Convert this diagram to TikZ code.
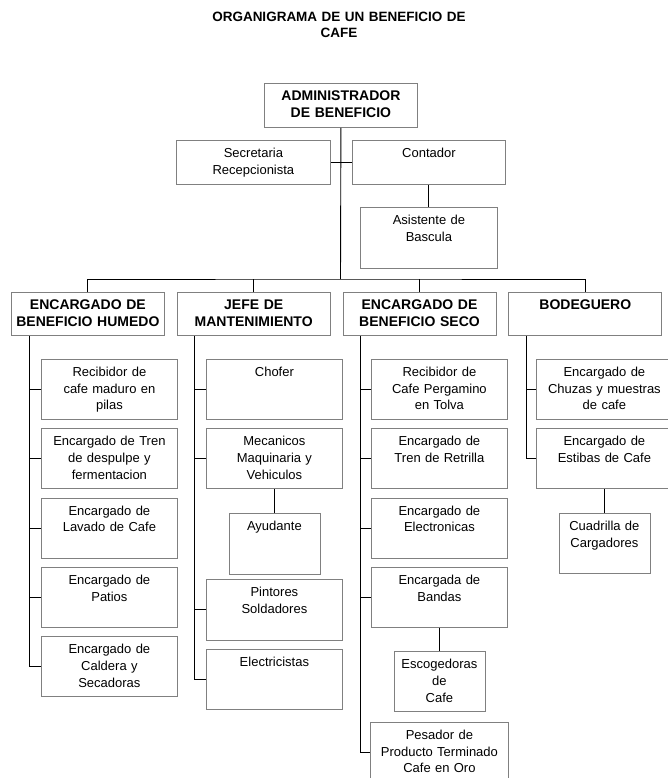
\documentclass[tikz,border=0pt]{standalone}
\usepackage{fontspec}
\setmainfont{Liberation Sans}
\usetikzlibrary{positioning}
\definecolor{bordegris}{RGB}{128,128,128}

\begin{document}
\begin{tikzpicture}[x=1pt,y=-1pt,
  caja/.style={draw=bordegris, line width=0.8pt, inner sep=0pt, align=center,
    text height=17pt, text width=136pt, text depth=43pt,
    font=\fontsize{13}{16.7}\selectfont},
  jefe/.style={caja, text width=153pt, text depth=26pt,
    font=\fontsize{14}{17.3}\selectfont\bfseries},
  chica/.style={caja, text width=91pt},
  linea/.style={draw=black, line width=0.9pt}]
\useasboundingbox (0,0) rectangle (668,778);

\node[font=\fontsize{13.5}{16.3}\selectfont\bfseries, align=center, text width=320pt,
  inner sep=0pt, text height=17pt, text depth=20pt, anchor=north] (titulo) at (339,4)
  {ORGANIGRAMA DE UN BENEFICIO DE\\CAFE};

% direccion
\node[jefe, anchor=north west, text depth=27pt] (adm) at (264,83) {ADMINISTRADOR\\DE BENEFICIO};
\node[caja, anchor=north west, text width=154pt, text depth=27pt] (sec) at (176,140) {Secretaria\\Recepcionista};
\node[caja, anchor=north west, text width=153pt, text depth=27pt] (cont) at (352,140) {Contador};
\node[caja, anchor=north west, text width=137pt, text depth=44pt] (asis) at (360,207) {Asistente de\\Bascula};

% jefes de area
\node[jefe, anchor=north west] (hum) at (11,292) {ENCARGADO DE\\BENEFICIO HUMEDO};
\node[jefe, right=12pt of hum] (man) {JEFE DE\\MANTENIMIENTO};
\node[jefe, right=12pt of man] (seco) {ENCARGADO DE\\BENEFICIO SECO};
\node[jefe, right=12pt of seco] (bod) {BODEGUERO};

% beneficio humedo
\node[caja, anchor=north west] (h1) at (41,359) {Recibidor de\\cafe maduro en\\pilas};
\node[caja, below=8.5pt of h1] (h2) {Encargado de Tren\\de despulpe y\\fermentacion};
\node[caja, below=8.5pt of h2] (h3) {Encargado de\\Lavado de Cafe};
\node[caja, below=8.5pt of h3] (h4) {Encargado de\\Patios};
\node[caja, below=8.5pt of h4] (h5) {Encargado de\\Caldera y\\Secadoras};

% mantenimiento
\node[caja, anchor=north west] (m1) at (206,359) {Chofer};
\node[caja, below=8.5pt of m1] (m2) {Mecanicos\\Maquinaria y\\Vehiculos};
\node[chica, text depth=44pt, below=24pt of m2] (ayu) {Ayudante};
\node[caja, anchor=north west, text depth=44pt] (m3) at (206,579) {Pintores\\Soldadores};
\node[caja, below=8pt of m3] (m4) {Electricistas};

% beneficio seco
\node[caja, anchor=north west] (s1) at (371,359) {Recibidor de\\Cafe Pergamino\\en Tolva};
\node[caja, below=8.5pt of s1] (s2) {Encargado de\\Tren de Retrilla};
\node[caja, below=8.5pt of s2] (s3) {Encargado de\\Electronicas};
\node[caja, below=8.5pt of s3] (s4) {Encargada de\\Bandas};
\node[chica, below=23.5pt of s4] (esc) {Escogedoras\\de\\Cafe};
\node[caja, text width=138pt, below=10pt of esc] (s5) {Pesador de\\Producto Terminado\\Cafe en Oro};

% bodega
\node[caja, anchor=north west] (b1) at (536,359) {Encargado de\\Chuzas y muestras\\de cafe};
\node[caja, below=8.5pt of b1] (b2) {Encargado de\\Estibas de Cafe};
\node[chica, below=24pt of b2] (cua) {Cuadrilla de\\Cargadores};

% lineas
\coordinate (bus) at (340.5,279);
\draw[linea] (adm.south) -- (bus);
\draw[linea] (hum.north) |- (bus) -| (bod.north);
\draw[linea] (man.north) -- (man.north |- bus);
\draw[linea] (seco.north) -- (seco.north |- bus);
\draw[linea] (sec.east) -- (cont.west);
\draw[linea] (cont.south) -- (asis.north);

\coordinate (c1) at ([xshift=18pt]hum.south west);
\coordinate (c2) at ([xshift=18pt]man.south west);
\coordinate (c3) at ([xshift=18pt]seco.south west);
\coordinate (c4) at ([xshift=18pt]bod.south west);

\draw[linea] (c1) |- (h5.west);
\foreach \i in {1,...,4} \draw[linea] (h\i.west) -- (c1 |- h\i.west);
\draw[linea] (c2) |- (m4.west);
\foreach \i in {1,2,3} \draw[linea] (m\i.west) -- (c2 |- m\i.west);
\draw[linea] (m2.south) -- (ayu.north);
\draw[linea] (c3) |- (s5.west);
\foreach \i in {1,...,4} \draw[linea] (s\i.west) -- (c3 |- s\i.west);
\draw[linea] (s4.south) -- (esc.north);
\draw[linea] (c4) |- (b2.west);
\draw[linea] (b1.west) -- (c4 |- b1.west);
\draw[linea] (b2.south) -- (cua.north);
\end{tikzpicture}
\end{document}
